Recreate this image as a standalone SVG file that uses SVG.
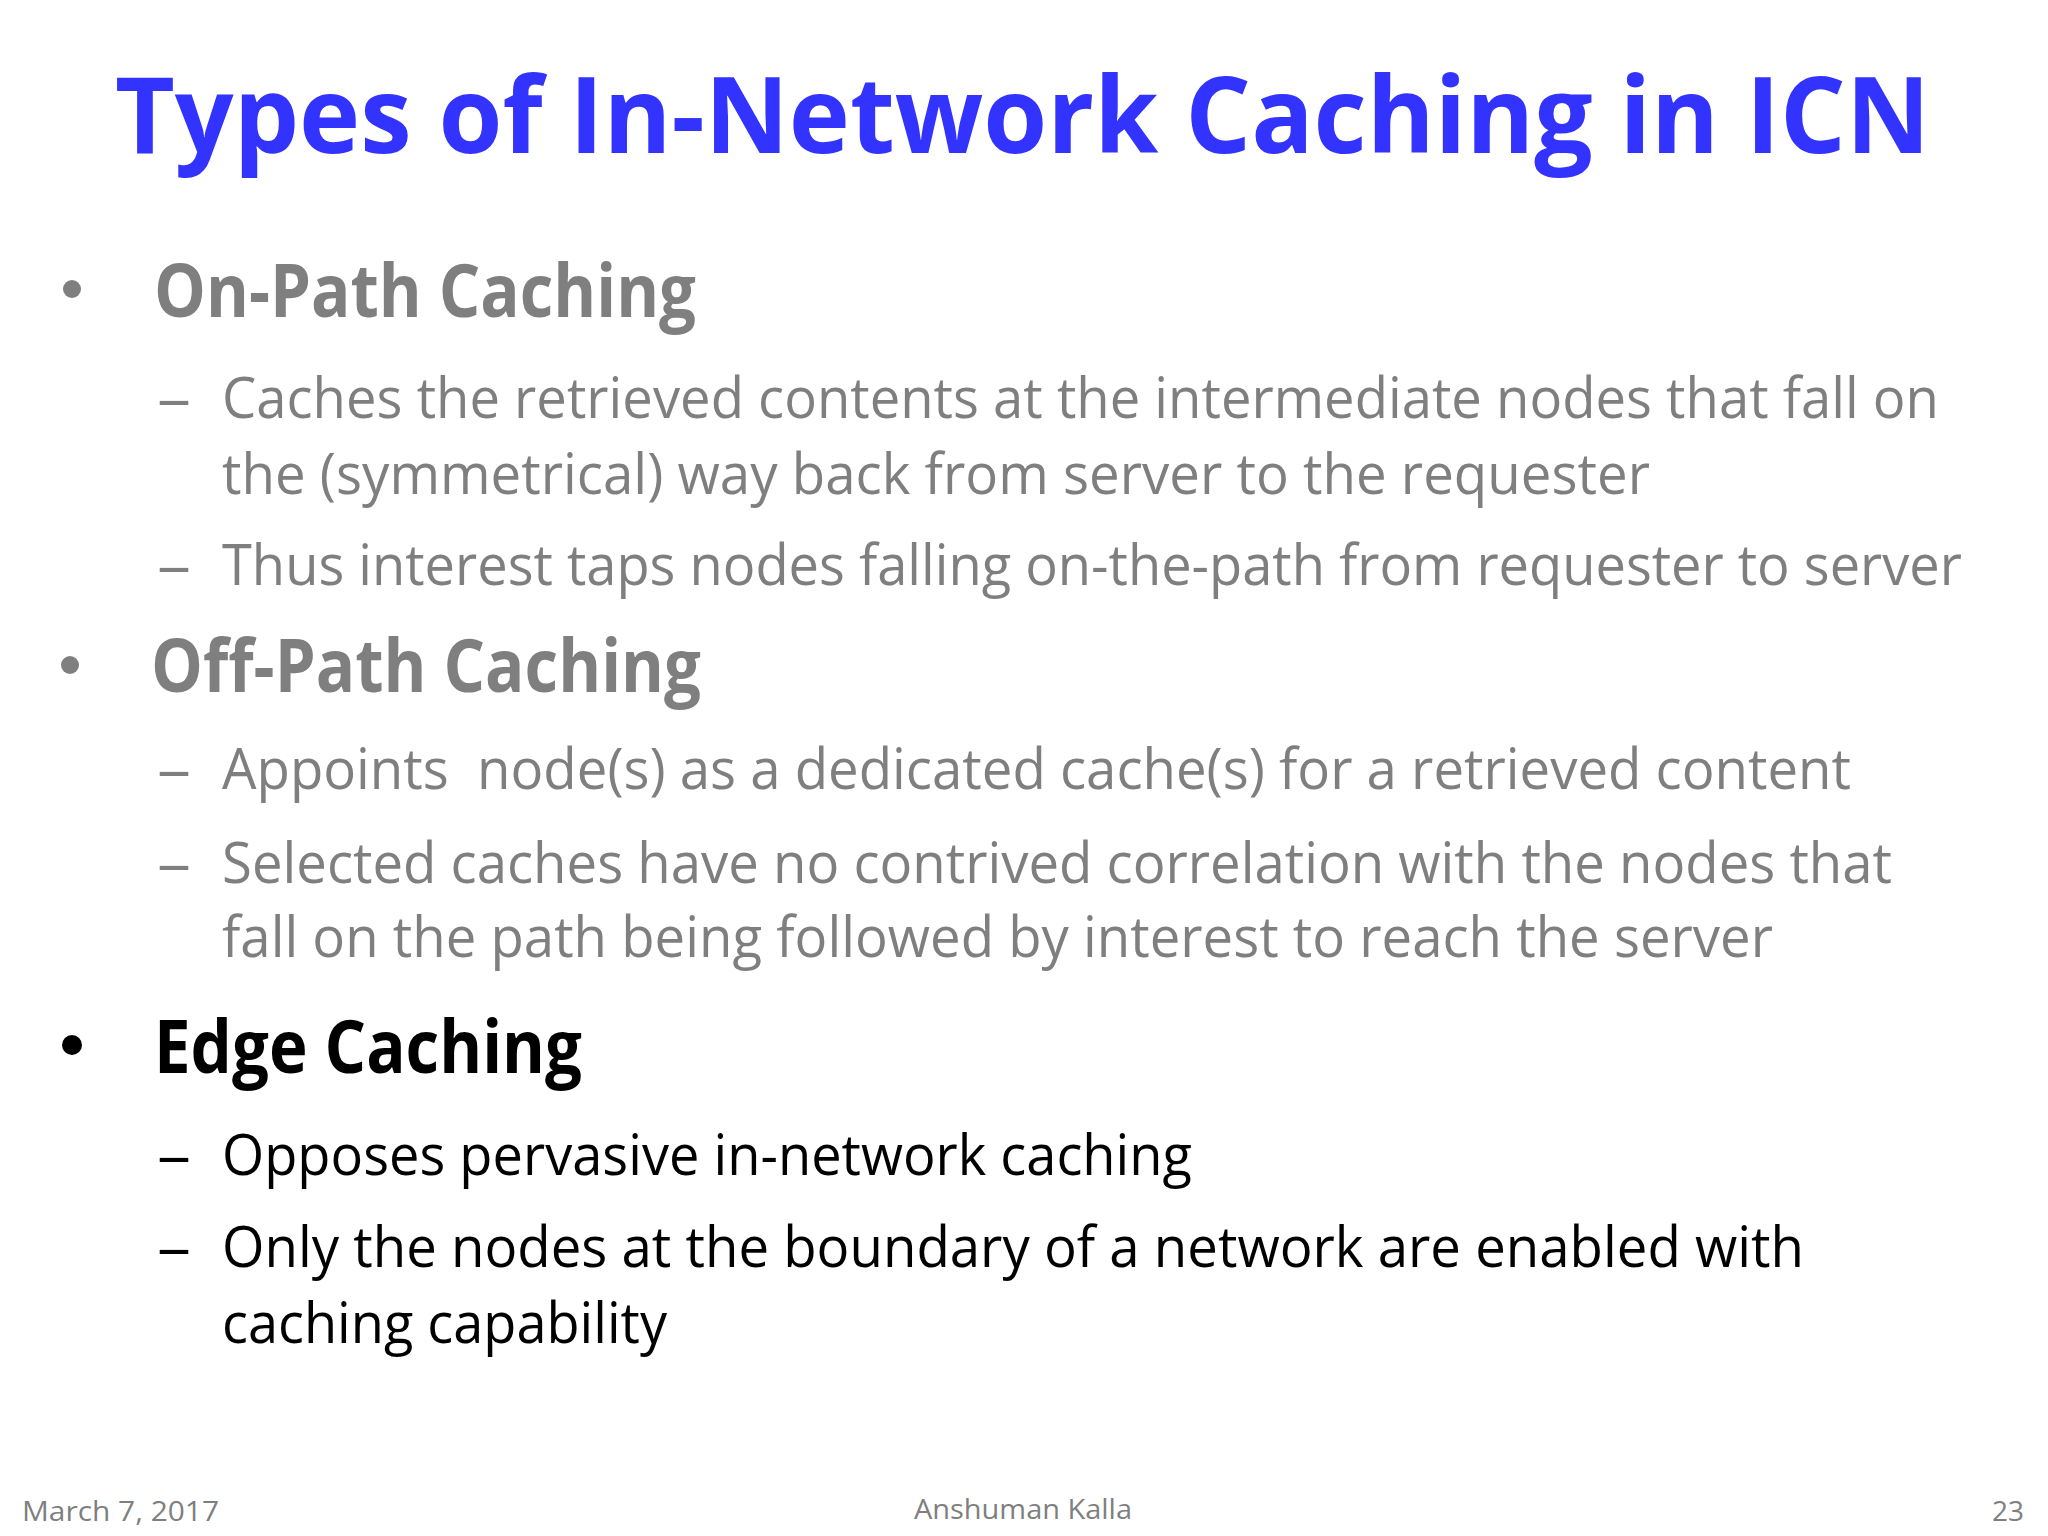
<svg xmlns="http://www.w3.org/2000/svg" width="2048" height="1536" viewBox="0 0 2048 1536">
<style>
text{font-family:"Open Sans","Noto Sans","Liberation Sans",sans-serif}
.t{font-size:106px;font-weight:bold;fill:#3333ff}
.h{font-size:74px;font-weight:bold}
.s{font-size:56px}
.g{fill:#7f7f7f}
.k{fill:#000}
.f{font-size:28px;fill:#7f7f7f}
</style>
<rect width="2048" height="1536" fill="#ffffff"/>
<text class="t" x="115" y="153" textLength="1815" lengthAdjust="spacingAndGlyphs">Types of In-Network Caching in ICN</text>
<g class="g">
<circle cx="72" cy="289" r="9" fill="#7f7f7f"/>
<text class="h g" x="154" y="317" textLength="542" lengthAdjust="spacingAndGlyphs">On-Path Caching</text>
<text class="s g" x="157" y="418" textLength="34" lengthAdjust="spacingAndGlyphs">–</text>
<text class="s g" x="222" y="418" textLength="1717" lengthAdjust="spacingAndGlyphs">Caches the retrieved contents at the intermediate nodes that fall on</text>
<text class="s g" x="222" y="494" textLength="1428" lengthAdjust="spacingAndGlyphs">the (symmetrical) way back from server to the requester</text>
<text class="s g" x="157" y="585" textLength="34" lengthAdjust="spacingAndGlyphs">–</text>
<text class="s g" x="222" y="585" textLength="1740" lengthAdjust="spacingAndGlyphs">Thus interest taps nodes falling on-the-path from requester to server</text>
<circle cx="70" cy="665" r="9" fill="#7f7f7f"/>
<text class="h g" x="151" y="692" textLength="550" lengthAdjust="spacingAndGlyphs">Off-Path Caching</text>
<text class="s g" x="157" y="789" textLength="34" lengthAdjust="spacingAndGlyphs">–</text>
<text class="s g" x="222" y="789" textLength="1629" lengthAdjust="spacingAndGlyphs" xml:space="preserve">Appoints  node(s) as a dedicated cache(s) for a retrieved content</text>
<text class="s g" x="157" y="883" textLength="34" lengthAdjust="spacingAndGlyphs">–</text>
<text class="s g" x="222" y="883" textLength="1670" lengthAdjust="spacingAndGlyphs">Selected caches have no contrived correlation with the nodes that</text>
<text class="s g" x="222" y="957" textLength="1551" lengthAdjust="spacingAndGlyphs">fall on the path being followed by interest to reach the server</text>
</g>
<g>
<circle cx="72" cy="1045" r="10" fill="#000"/>
<text class="h k" x="154" y="1073" textLength="428" lengthAdjust="spacingAndGlyphs">Edge Caching</text>
<text class="s k" x="157" y="1175" textLength="34" lengthAdjust="spacingAndGlyphs">–</text>
<text class="s k" x="222" y="1175" textLength="970" lengthAdjust="spacingAndGlyphs">Opposes pervasive in-network caching</text>
<text class="s k" x="157" y="1267" textLength="34" lengthAdjust="spacingAndGlyphs">–</text>
<text class="s k" x="222" y="1267" textLength="1582" lengthAdjust="spacingAndGlyphs">Only the nodes at the boundary of a network are enabled with</text>
<text class="s k" x="222" y="1343" textLength="445" lengthAdjust="spacingAndGlyphs">caching capability</text>
</g>
<text class="f" x="22" y="1521" textLength="197" lengthAdjust="spacingAndGlyphs">March 7, 2017</text>
<text class="f" x="914" y="1519" textLength="218" lengthAdjust="spacingAndGlyphs">Anshuman Kalla</text>
<text class="f" x="1992" y="1521" textLength="32" lengthAdjust="spacingAndGlyphs">23</text>
</svg>
